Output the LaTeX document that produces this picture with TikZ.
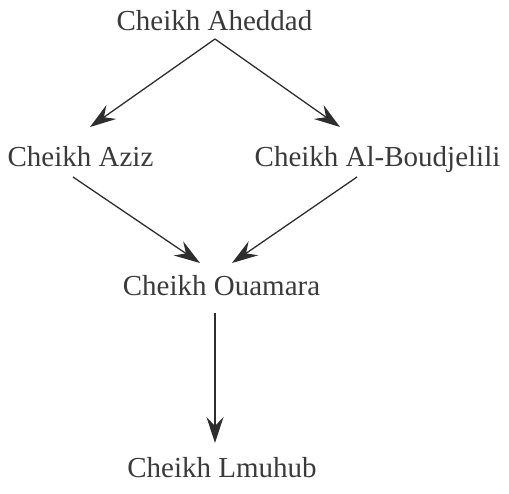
\documentclass[tikz,border=0pt]{standalone}
\usepackage{fontspec}
\setmainfont{Liberation Serif}
\usetikzlibrary{arrows.meta}
\definecolor{ink}{HTML}{2E2E2E}
\definecolor{txt}{HTML}{3A3A3A}
\begin{document}
\begin{tikzpicture}[x=1pt,y=1pt,
  lbl/.style={anchor=base,inner sep=0pt,font=\fontsize{29}{32}\selectfont,text=txt},
  arr/.style={draw=ink,line width=1.3pt,-{Stealth[length=26pt,width=17pt,inset=9pt]}}]
\useasboundingbox (0,0) rectangle (509,-493);
\node[lbl] (top) at (214.5,-30) {Cheikh Aheddad};
\node[lbl] (aziz) at (80.5,-166) {Cheikh Aziz};
\node[lbl] (albou) at (377.5,-166) {Cheikh Al-Boudjelili};
\node[lbl] (oua) at (221.5,-295) {Cheikh Ouamara};
\node[lbl] (lmu) at (222,-477) {Cheikh Lmuhub};
\draw[arr] ([xshift=0.5pt,yshift=-9pt]top.base) -- ([xshift=9.5pt,yshift=39pt]aziz.base);
\draw[arr] ([xshift=0.5pt,yshift=-9pt]top.base) -- ([xshift=-37.5pt,yshift=39pt]albou.base);
\draw[arr] ([xshift=-7.5pt,yshift=-11pt]aziz.base) -- ([xshift=-21.5pt,yshift=32pt]oua.base);
\draw[arr] ([xshift=-20.5pt,yshift=-11pt]albou.base) -- ([xshift=10.5pt,yshift=32pt]oua.base);
\draw[arr] ([xshift=-6.5pt,yshift=-18pt]oua.base) -- ([xshift=-7pt,yshift=34pt]lmu.base);
\end{tikzpicture}
\end{document}
